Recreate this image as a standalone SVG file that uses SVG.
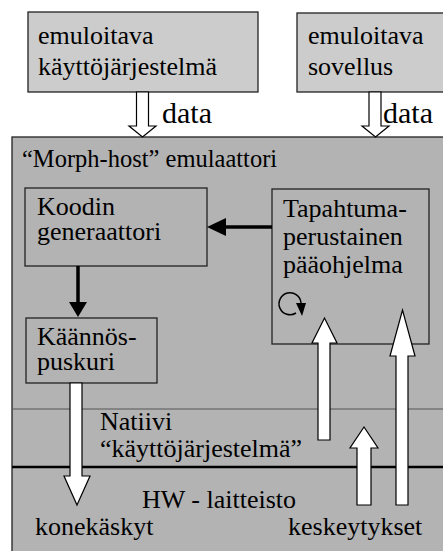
<svg xmlns="http://www.w3.org/2000/svg" width="443" height="551" viewBox="0 0 443 551">
<style>
.t{font-family:'Liberation Serif','DejaVu Serif',serif;font-size:26px;fill:#000}
.top{fill:#cccccc;stroke:#222;stroke-width:1.3}
.box{fill:#b3b3b3;stroke:#222;stroke-width:1.3}
.hollow{fill:#fff;stroke:#000;stroke-width:1.2}
.data{font-size:30px}
</style>
<rect x="0" y="0" width="443" height="551" fill="#fff"/>
<g id="emulator">
<rect class="box" x="12" y="137" width="440" height="420"/>
<text class="t" x="22" y="167" font-family="Liberation Serif, serif" style="font-size:24.5px">“Morph-host” emulaattori</text>
</g>
<g id="native-os">
<line x1="12" y1="409" x2="443" y2="409" stroke="#555" stroke-width="1"/>
<text class="t" x="100" y="430" font-family="Liberation Serif, serif">Natiivi</text>
<text class="t" x="100" y="457" font-family="Liberation Serif, serif">“käyttöjärjestelmä”</text>
</g>
<g id="hardware">
<line x1="12" y1="467" x2="443" y2="467" stroke="#000" stroke-width="2.5"/>
<text class="t" x="142" y="508" font-family="Liberation Serif, serif">HW - laitteisto</text>
<text class="t" x="35" y="535" font-family="Liberation Serif, serif">konekäskyt</text>
<text class="t" x="288" y="535" font-family="Liberation Serif, serif">keskeytykset</text>
</g>
<g id="emulated-os">
<rect class="top" x="28" y="12" width="230" height="80"/>
<text class="t" x="38" y="44" font-family="Liberation Serif, serif">emuloitava</text>
<text class="t" x="38" y="75" font-family="Liberation Serif, serif">käyttöjärjestelmä</text>
</g>
<g id="emulated-app">
<rect class="top" x="297" y="13" width="160" height="79"/>
<text class="t" x="308" y="44" font-family="Liberation Serif, serif">emuloitava</text>
<text class="t" x="308" y="75" font-family="Liberation Serif, serif">sovellus</text>
</g>
<g id="code-generator">
<rect class="box" x="25" y="188" width="182" height="78"/>
<text class="t" x="37" y="215" font-family="Liberation Serif, serif">Koodin</text>
<text class="t" x="37" y="240" font-family="Liberation Serif, serif">generaattori</text>
</g>
<g id="main-loop">
<rect class="box" x="272" y="189" width="157" height="155"/>
<text class="t" x="283" y="217" font-family="Liberation Serif, serif">Tapahtuma-</text>
<text class="t" x="283" y="245" font-family="Liberation Serif, serif">perustainen</text>
<text class="t" x="283" y="273" font-family="Liberation Serif, serif">pääohjelma</text>
<path d="M296 313 A11 11 0 1 1 301 303" fill="none" stroke="#000" stroke-width="1.5"/>
<polygon points="296,303 306,303 302,316" fill="#000"/>
</g>
<g id="translation-buffer">
<rect class="box" x="26" y="318" width="131" height="65"/>
<text class="t" x="37" y="345" font-family="Liberation Serif, serif">Käännös-</text>
<text class="t" x="37" y="370" font-family="Liberation Serif, serif">puskuri</text>
</g>
<g id="connectors">
<polygon class="hollow" points="136.5,92 148.5,92 148.5,126 156,126 142.5,137 129,126 136.5,126"/>
<text class="t data" x="162" y="123" font-family="Liberation Serif, serif" style="font-size:30px">data</text>
<polygon class="hollow" points="369,92 381,92 381,126 389,126 375.5,137 362,126 369,126"/>
<text class="t data" x="383" y="123" font-family="Liberation Serif, serif" style="font-size:30px">data</text>
<line x1="272" y1="227" x2="224" y2="227" stroke="#000" stroke-width="3.5"/>
<polygon points="226,218 226,236 207,227" fill="#000"/>
<line x1="78" y1="266" x2="78" y2="304" stroke="#000" stroke-width="3.5"/>
<polygon points="69,302 87,302 78,317" fill="#000"/>
<polygon class="hollow" points="70,383 82,383 82,476 90,476 77,505 64,476 70,476"/>
<polygon class="hollow" points="318,440 330,440 330,343 337,343 324.5,318 312,343 318,343"/>
<polygon class="hollow" points="357,505 371,505 371,448 378,448 364,427 350,448 357,448"/>
<polygon class="hollow" points="396,505 408,505 408,356 415,356 402.5,310 390,356 396,356"/>
</g>
</svg>
